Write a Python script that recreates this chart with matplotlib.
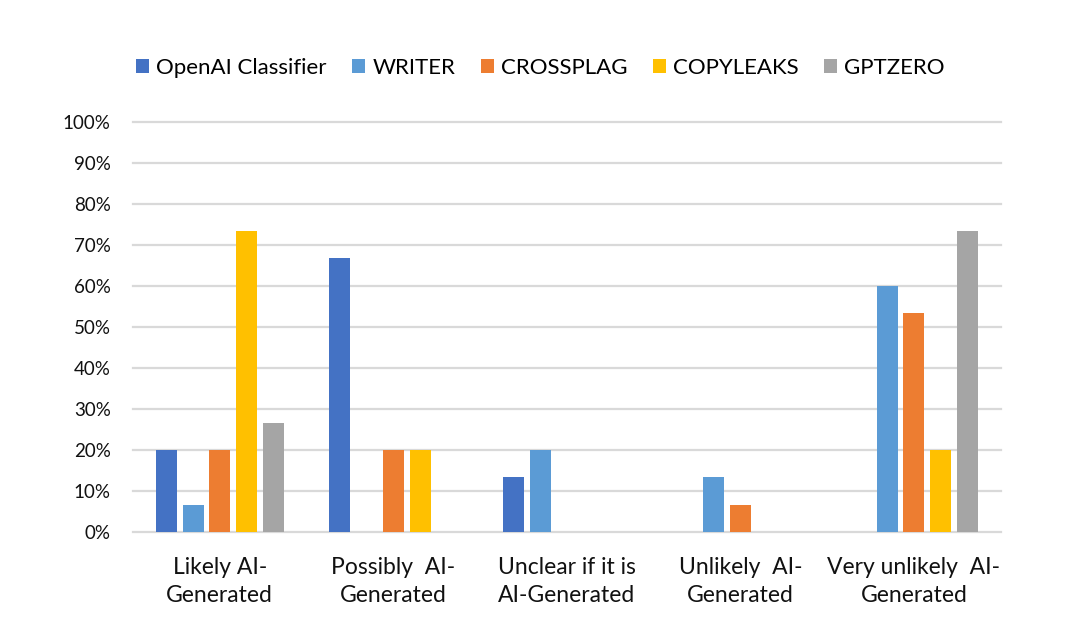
import numpy as np
import matplotlib
matplotlib.use('Agg')
import matplotlib.pyplot as plt
from matplotlib.ticker import PercentFormatter

# Categorías y series (fracción de textos)
categorias = ['Likely AI-\nGenerated', 'Possibly  AI-\nGenerated', 'Unclear if it is\nAI-Generated',
              'Unlikely  AI-\nGenerated', 'Very unlikely  AI-\nGenerated']
series = ['OpenAI Classifier', 'WRITER', 'CROSSPLAG', 'COPYLEAKS', 'GPTZERO']

openai = [0.20, 0.6667, 0.1333, 0.0, 0.0]
writer = [0.0667, 0.0, 0.20, 0.1333, 0.60]
crossplag = [0.20, 0.20, 0.0, 0.0667, 0.5333]
copyleaks = [0.7333, 0.20, 0.0, 0.0, 0.20]
gptzero = [0.2667, 0.0, 0.0, 0.0, 0.7333]

colores = ['#4472C4', '#5B9BD5', '#ED7D31', '#FFC000', '#A5A5A5']

plt.rcParams['font.family'] = ['Lato', 'DejaVu Sans']

fig = plt.figure(figsize=(10.74, 6.31), dpi=100)
ax = fig.add_axes([0.1238, 0.157, 0.808, 0.65])

x = np.arange(len(categorias))
ancho = 0.121
paso = 0.154
valores = [openai, writer, crossplag, copyleaks, gptzero]
for i, (nombre, vals) in enumerate(zip(series, valores)):
    ax.bar(x + (i - 2) * paso, vals, ancho, label=nombre, color=colores[i], zorder=3)

ax.set_xlim(-0.5, len(categorias) - 0.5)
ax.set_ylim(0, 1)
ax.set_yticks(np.arange(0, 1.01, 0.1))
ax.yaxis.set_major_formatter(PercentFormatter(1.0, decimals=0))
ax.set_xticks(x)
ax.set_xticklabels(categorias, fontsize=16.5, color='#111111', linespacing=1.42)

ax.grid(axis='y', color='#D9D9D9', linewidth=1.6, zorder=0)
for g in ax.yaxis.get_gridlines():
    g.set_clip_on(False)
for s in ax.spines.values():
    s.set_visible(False)
ax.tick_params(axis='both', length=0)
ax.tick_params(axis='y', labelsize=13.5, pad=16, labelcolor='#111111')
ax.tick_params(axis='x', pad=18)

fig.legend(loc='center', bbox_to_anchor=(0.503, 0.892), ncol=5, frameon=False,
           fontsize=16, handlelength=0.6, handleheight=0.6, handletextpad=0.3,
           columnspacing=1.15)

fig.savefig('out.png', dpi=100, facecolor='white')
